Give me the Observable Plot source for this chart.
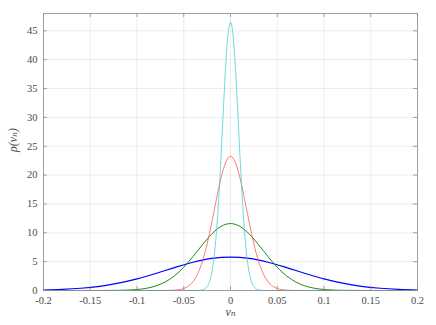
<!DOCTYPE html>
<html><head><meta charset="utf-8">
<script src="https://cdn.jsdelivr.net/npm/d3@7"></script>
<script src="https://cdn.jsdelivr.net/npm/@observablehq/plot@0.6"></script>
<style>
body{margin:0;background:#fff}
#chart svg, #chart svg text{font-family:"Liberation Serif","DejaVu Serif",serif !important;}
</style>
</head><body><div id="chart"></div>
<script>
const xTicks = [-0.2,-0.15,-0.1,-0.05,0,0.05,0.1,0.15,0.2];
const xTickLabels = ["-0.2","-0.15","-0.1","-0.05","0","0.05","0.1","0.15","0.2"];
const yTicks = [0,5,10,15,20,25,30,35,40,45];
const yTickLabels = ["0","5","10","15","20","25","30","35","40","45"];
const xLabel = "vₙ";
const yLabel = "ρ(vₙ)";

const cyanX = [-0.2,-0.035,-0.03,-0.0275,-0.025,-0.0225,-0.02,-0.0175,-0.015,-0.0125,-0.01,-0.0075,-0.005,-0.0025,0,0.0025,0.005,0.0075,0.01,0.0125,0.015,0.0175,0.02,0.0225,0.025,0.0275,0.03,0.035,0.2];
const cyanY = [0,0.01,0.1,0.28,0.68,1.5,3.1,5.9,10.2,16.2,23.7,31.8,39.3,44.6,46.5,44.6,39.3,31.8,23.7,16.2,10.2,5.9,3.1,1.5,0.68,0.28,0.1,0.01,0];

const redX = [-0.2,-0.07,-0.065,-0.06,-0.055,-0.05,-0.045,-0.04,-0.035,-0.03,-0.025,-0.02,-0.015,-0.01,-0.005,0,0.005,0.01,0.015,0.02,0.025,0.03,0.035,0.04,0.045,0.05,0.055,0.06,0.065,0.07,0.2];
const redY = [0,0.005,0.02,0.05,0.14,0.34,0.76,1.55,2.93,5.07,8.07,11.8,15.86,19.59,22.24,23.25,22.24,19.59,15.86,11.8,8.07,5.07,2.93,1.55,0.76,0.34,0.14,0.05,0.02,0.005,0];

const greenX = [-0.2,-0.14,-0.12,-0.11,-0.1,-0.09,-0.08,-0.07,-0.06,-0.05,-0.04,-0.03,-0.02,-0.01,0,0.01,0.02,0.03,0.04,0.05,0.06,0.07,0.08,0.09,0.1,0.11,0.12,0.14,0.2];
const greenY = [0,0.003,0.026,0.07,0.17,0.38,0.78,1.46,2.53,4.03,5.9,7.93,9.8,11.12,11.6,11.12,9.8,7.93,5.9,4.03,2.53,1.46,0.78,0.38,0.17,0.07,0.026,0.003,0];

const blueX = [-0.2,-0.18,-0.16,-0.14,-0.12,-0.1,-0.08,-0.06,-0.04,-0.02,0,0.02,0.04,0.06,0.08,0.1,0.12,0.14,0.16,0.18,0.2];
const blueY = [0.085,0.19,0.39,0.73,1.27,2.02,2.95,3.97,4.9,5.56,5.8,5.56,4.9,3.97,2.95,2.02,1.27,0.73,0.39,0.19,0.085];

const W = 436, H = 325, mL = 43, mR = 19, mT = 13, mB = 35;
const innerW = W - mL - mR, innerH = H - mT - mB;
const tk = 4;
const axisColor = "#8a8a8a";
const serif = "'Liberation Serif', 'DejaVu Serif', serif";

function series(xs, ys) { return xs.map((x, i) => ({x, y: ys[i]})); }
const lineOpts = {x: "x", y: "y", curve: "monotone-x"};

const chart = Plot.plot({
  width: W, height: H,
  marginLeft: mL, marginRight: mR, marginTop: mT, marginBottom: mB,
  x: {domain: [-0.2, 0.2]},
  y: {domain: [0, 48]},
  style: {fontFamily: serif, fontSize: "10.5px", color: "#4a4a4a", background: "#fff"},
  marks: [
    Plot.gridX(xTicks, {stroke: "#000", strokeOpacity: 0.09, strokeWidth: 0.8}),
    Plot.gridY(yTicks, {stroke: "#000", strokeOpacity: 0.09, strokeWidth: 0.8}),
    Plot.line(series(blueX, blueY), {...lineOpts, stroke: "#0000ff", strokeWidth: 1.2}),
    Plot.line(series(greenX, greenY), {...lineOpts, stroke: "#1a8a1a", strokeWidth: 1.0}),
    Plot.line(series(redX, redY), {...lineOpts, stroke: "#ff4d4d", strokeWidth: 0.75}),
    Plot.line(series(cyanX, cyanY), {...lineOpts, stroke: "#40cccc", strokeWidth: 0.75}),
    Plot.frame({stroke: axisColor, strokeWidth: 0.8}),
    Plot.ruleX(xTicks, {insetTop: innerH - tk, stroke: axisColor, strokeWidth: 0.8}),
    Plot.ruleX(xTicks, {insetBottom: innerH - tk, stroke: axisColor, strokeWidth: 0.8}),
    Plot.ruleY(yTicks, {insetRight: innerW - tk, stroke: axisColor, strokeWidth: 0.8}),
    Plot.ruleY(yTicks, {insetLeft: innerW - tk, stroke: axisColor, strokeWidth: 0.8}),
    Plot.axisX(xTicks, {tickSize: 0, tickPadding: 6, label: null, fontFamily: serif, tickFormat: d => xTickLabels[xTicks.indexOf(d)]}),
    Plot.axisY(yTicks, {tickSize: 0, tickPadding: 6, label: null, fontFamily: serif, tickFormat: d => yTickLabels[yTicks.indexOf(d)]}),
    Plot.text([yLabel], {frameAnchor: "left", dx: -30, rotate: -90, fontStyle: "italic", fontSize: 12, fontFamily: serif}),
    Plot.text([xLabel], {frameAnchor: "bottom", dy: 25, fontStyle: "italic", fontSize: 12, fontFamily: serif})
  ]
});
document.getElementById("chart").appendChild(chart);
</script>
</body></html>
